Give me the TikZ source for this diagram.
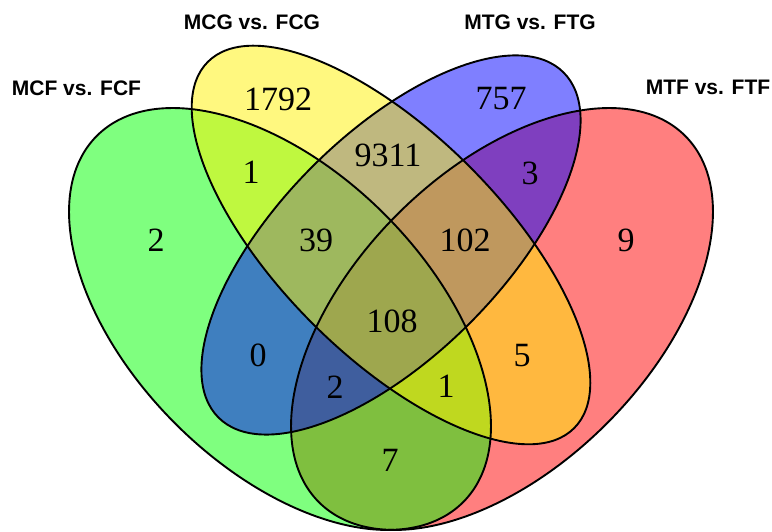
\documentclass[tikz,border=0pt]{standalone}
\usepackage{fontspec}
\setmainfont{Liberation Serif}
\newfontfamily\lsans{Liberation Sans}
\begin{document}
\begin{tikzpicture}[x=1pt,y=1pt,
  setfill/.style={fill opacity=0.5},
  outline/.style={draw=black, line width=1.9pt},
  numlbl/.style={anchor=base, inner sep=0pt, font=\fontsize{34}{38}\selectfont},
  setlbl/.style={anchor=base, inner sep=0pt, font=\lsans\bfseries\fontsize{21}{24}\selectfont}]
\useasboundingbox (0,0) rectangle (772,532);
% fills: red, green, blue, yellow
\fill[red, setfill, rotate around={45:(502,213)}] (502,213) ellipse [x radius=259, y radius=148];
\fill[green, setfill, rotate around={-45:(280,213)}] (280,213) ellipse [x radius=259, y radius=148];
\fill[blue, setfill, rotate around={45:(391,287)}] (391,287) ellipse [x radius=244, y radius=111];
\fill[yellow, setfill, rotate around={-45:(391,287)}] (391,287) ellipse [x radius=259, y radius=111];
% outlines
\draw[outline, rotate around={45:(502,213)}] (502,213) ellipse [x radius=259, y radius=148];
\draw[outline, rotate around={-45:(280,213)}] (280,213) ellipse [x radius=259, y radius=148];
\draw[outline, rotate around={45:(391,287)}] (391,287) ellipse [x radius=244, y radius=111];
\draw[outline, rotate around={-45:(391,287)}] (391,287) ellipse [x radius=259, y radius=111];
% counts
\node[numlbl] (nB) at (278,421) {1792};
\node[numlbl] (nC) at (501,422) {757};
\node[numlbl] (nA) at (156,280) {2};
\node[numlbl] (nD) at (626,280) {9};
\node[numlbl] (nAB) at (251,348) {1};
\node[numlbl] (nCD) at (530,347) {3};
\node[numlbl] (nBC) at (388,365) {9311};
\node[numlbl] (nABC) at (316,280) {39};
\node[numlbl] (nBCD) at (465,280) {102};
\node[numlbl] (nABCD) at (392,199) {108};
\node[numlbl] (nAC) at (258,165) {0};
\node[numlbl] (nBD) at (522,165) {5};
\node[numlbl] (nACD) at (335,133) {2};
\node[numlbl] (nABD) at (446,134) {1};
\node[numlbl] (nAD) at (390,60) {7};
% set labels
\node[setlbl] (lA) at (76.5,436) {MCF vs. FCF};
\node[setlbl] (lB) at (252,502) {MCG vs. FCG};
\node[setlbl] (lC) at (530,502) {MTG vs. FTG};
\node[setlbl] (lD) at (708,437) {MTF vs. FTF};
\end{tikzpicture}
\end{document}
